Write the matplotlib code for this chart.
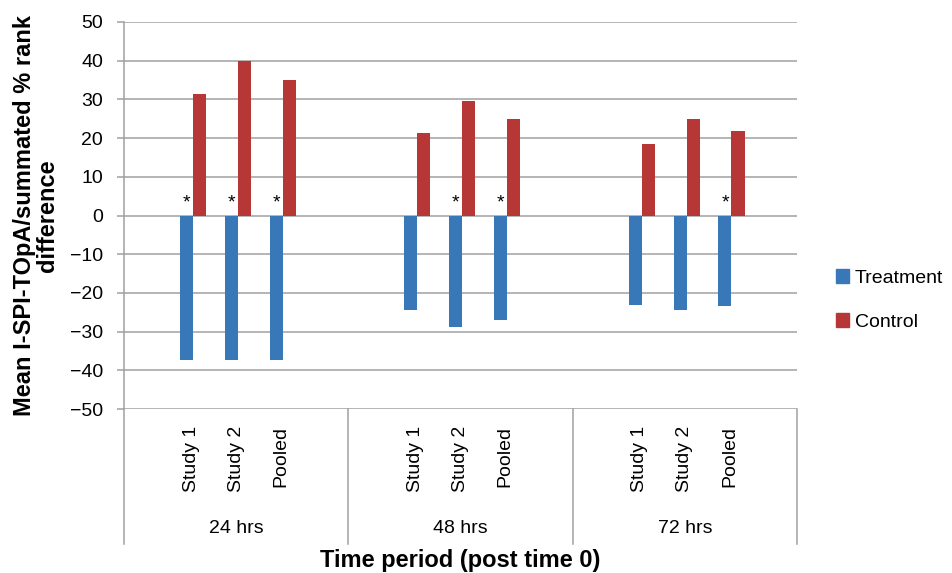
import numpy as np
import matplotlib
matplotlib.use("Agg")
import matplotlib.pyplot as plt
from matplotlib.patches import Patch
import matplotlib.transforms as mtransforms

plt.rcParams['font.family'] = ['Liberation Sans', 'DejaVu Sans']

# data
groups = ['24 hrs', '48 hrs', '72 hrs']
studies = ['Study 1', 'Study 2', 'Pooled']
treatment = [-37.4, -37.4, -37.4, -24.5, -28.9, -26.9, -23.0, -24.5, -23.5]
control = [31.5, 40.0, 35.1, 21.2, 29.7, 25.0, 18.6, 25.0, 21.9]
significant = [True, True, True, False, True, True, False, False, True]

blue = '#3877B8'
red = '#B63735'
grid_col = '#A0A0A0'

# 5 slots per group: blank, Study 1, Study 2, Pooled, blank
slots = 5
xpos = np.array([g * slots + 1 + s for g in range(len(groups)) for s in range(len(studies))])
w = 0.29

fig = plt.figure(figsize=(9.52, 5.73), dpi=100)
ax = fig.add_axes([124 / 952, 1 - 409 / 573, 673 / 952, 387 / 573])

ax.bar(xpos - w / 2 + 0.04, treatment, w, color=blue, zorder=3)
ax.bar(xpos + w / 2 + 0.04, control, w, color=red, zorder=3)

for x, sig in zip(xpos, significant):
    if sig:
        ax.text(x - w / 2 + 0.04, 3.3, '*', ha='center', va='center', fontsize=14, zorder=4)

ax.set_xlim(-0.5, len(groups) * slots - 0.5)
ax.set_ylim(-50, 50)
ax.set_yticks(np.arange(-50, 51, 10))
ax.set_yticklabels([str(v).replace('-', '\u2212') for v in range(-50, 51, 10)])
ax.yaxis.grid(True, color=grid_col, linewidth=1.1, zorder=0)
ax.set_axisbelow(True)

for s in ['top', 'right', 'bottom']:
    ax.spines[s].set_visible(False)
ax.spines['left'].set_color(grid_col)
ax.spines['left'].set_linewidth(1.1)

ax.tick_params(axis='y', length=5, width=1.1, color=grid_col, pad=10, labelsize=14)
ax.set_xticks(xpos)
ax.set_xticklabels(studies * len(groups), rotation=90, fontsize=14)
ax.tick_params(axis='x', length=0, pad=12)

# group separators and group labels below the axis
trans = mtransforms.blended_transform_factory(ax.transData, ax.transAxes)
for g in range(len(groups) + 1):
    xb = g * slots - 0.5
    ax.plot([xb, xb], [0, -0.349], transform=trans, color=grid_col,
            linewidth=1.1, clip_on=False)
for g, name in enumerate(groups):
    ax.text(g * slots + 2, -0.3075, name, transform=trans, ha='center',
            va='center', fontsize=14)

ax.text(0.5, -0.408, 'Time period (post time 0)', transform=ax.transAxes,
        ha='center', va='baseline', fontsize=17, fontweight='bold')

ax.set_ylabel('Mean I-SPI-TOpA/summated % rank\ndifference', fontsize=17,
              fontweight='bold', linespacing=1.0)
ax.yaxis.set_label_coords(-0.097, 0.5)

handles = [Patch(color=blue), Patch(color=red)]
fig.legend(handles, ['Treatment', 'Control'], loc='center left',
           bbox_to_anchor=(835.5 / 952, 1 - 300 / 573), frameon=False,
           fontsize=14, handlelength=0.68, handleheight=0.68,
           handletextpad=0.3, labelspacing=1.36, borderpad=0, borderaxespad=0)

fig.savefig('out.png', dpi=100)
